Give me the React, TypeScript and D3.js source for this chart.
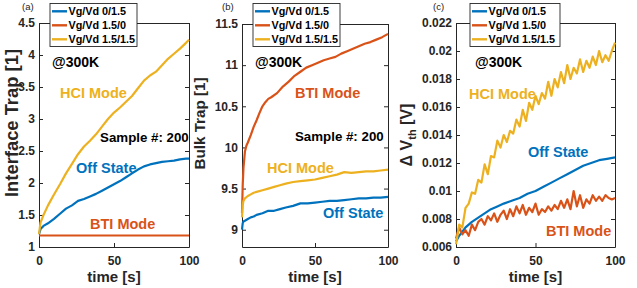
import React, { useRef, useEffect } from 'react';
import * as d3 from 'd3';

const seriesNames = ['Vg/Vd 0/1.5', 'Vg/Vd 1.5/0', 'Vg/Vd 1.5/1.5'];
const colors = ['#0072BD', '#D95319', '#EDB120'];
const xTicks = [0, 50, 100];

// (a) interface trap
const timeA = [0, 1, 3, 6, 10, 14, 18, 22, 26, 30, 34, 38, 42, 46, 50, 54, 58, 62, 66, 70, 74, 78, 82, 86, 90, 94, 98, 100];
const offA = [1.2, 1.28, 1.33, 1.37, 1.44, 1.52, 1.6, 1.65, 1.72, 1.75, 1.79, 1.83, 1.88, 1.93, 1.98, 2.03, 2.09, 2.15, 2.21, 2.26, 2.29, 2.31, 2.33, 2.34, 2.35, 2.37, 2.38, 2.38];
const btiTimeA = [0, 100];
const btiA = [1.18, 1.18];
const hciA = [1.2, 1.38, 1.5, 1.65, 1.82, 1.98, 2.15, 2.3, 2.45, 2.57, 2.66, 2.76, 2.88, 3.0, 3.1, 3.18, 3.27, 3.36, 3.48, 3.6, 3.68, 3.74, 3.84, 3.94, 4.02, 4.1, 4.19, 4.24];
const yTicksA = [1, 1.5, 2, 2.5, 3, 3.5, 4, 4.5];

// (b) bulk trap
const btiTimeB = [0, 0.5, 1, 2, 3, 4, 6, 8, 10, 12, 14, 16, 18, 20, 24, 28, 32, 36, 40, 44, 48, 52, 56, 60, 64, 68, 72, 76, 80, 84, 88, 92, 96, 100];
const btiB = [9.2, 9.55, 9.75, 9.95, 10.02, 10.06, 10.15, 10.25, 10.33, 10.42, 10.5, 10.55, 10.59, 10.61, 10.66, 10.74, 10.8, 10.87, 10.92, 10.97, 11.0, 11.03, 11.06, 11.08, 11.1, 11.14, 11.17, 11.2, 11.23, 11.26, 11.28, 11.31, 11.34, 11.38];
const timeB = [0, 0.5, 1, 2, 4, 6, 8, 10, 14, 18, 22, 26, 30, 35, 40, 45, 50, 55, 60, 65, 70, 75, 80, 85, 90, 95, 100];
const hciB = [9.15, 9.3, 9.35, 9.38, 9.41, 9.43, 9.45, 9.46, 9.48, 9.5, 9.52, 9.54, 9.56, 9.58, 9.59, 9.6, 9.61, 9.63, 9.65, 9.67, 9.7, 9.69, 9.7, 9.71, 9.71, 9.72, 9.73];
const offB = [9.0, 9.08, 9.1, 9.11, 9.13, 9.15, 9.16, 9.18, 9.2, 9.23, 9.23, 9.25, 9.27, 9.29, 9.32, 9.32, 9.33, 9.34, 9.35, 9.35, 9.36, 9.37, 9.38, 9.38, 9.39, 9.39, 9.4];
const yTicksB = [9, 9.5, 10, 10.5, 11, 11.5];

// (c) delta Vth
const offTimeC = [0, 2, 4, 6, 8, 10, 14, 18, 22, 26, 30, 35, 40, 45, 50, 55, 60, 65, 70, 75, 80, 85, 90, 95, 100];
const offC = [0.0064, 0.0068, 0.0071, 0.0074, 0.0076, 0.0078, 0.0081, 0.0084, 0.0087, 0.0089, 0.0091, 0.0093, 0.0095, 0.0098, 0.01, 0.0103, 0.0106, 0.0109, 0.0112, 0.0115, 0.0118, 0.012, 0.0122, 0.0123, 0.0124];
const timeC = [0, 2, 4, 6, 8, 10, 12, 14, 16, 18, 20, 22, 24, 26, 28, 30, 32, 34, 36, 38, 40, 42, 44, 46, 48, 50, 52, 54, 56, 58, 60, 62, 64, 66, 68, 70, 72, 74, 76, 78, 80, 82, 84, 86, 88, 90, 92, 94, 96, 98, 100];
const btiC = [0.0066, 0.0074, 0.0069, 0.0072, 0.0068, 0.0076, 0.0072, 0.0078, 0.008, 0.0076, 0.0082, 0.0079, 0.0084, 0.0078, 0.0083, 0.0086, 0.008, 0.0087, 0.0082, 0.0089, 0.0084, 0.009, 0.0083, 0.0088, 0.0085, 0.0091, 0.0083, 0.0087, 0.0085, 0.0089, 0.0086, 0.009, 0.0087, 0.0093, 0.0088, 0.0094, 0.0087, 0.01, 0.0089, 0.0097, 0.0088, 0.0094, 0.0091, 0.0097, 0.0093, 0.0096, 0.0093, 0.0097, 0.0095, 0.0094, 0.0095];
const hciC = [0.0062, 0.0076, 0.0074, 0.0088, 0.0091, 0.0099, 0.0098, 0.0108, 0.0106, 0.0119, 0.0112, 0.0125, 0.0124, 0.0136, 0.0131, 0.014, 0.0135, 0.0143, 0.0141, 0.0151, 0.0146, 0.0158, 0.015, 0.0163, 0.0158, 0.0168, 0.0162, 0.017, 0.0166, 0.0178, 0.0168, 0.018, 0.0174, 0.0185, 0.0177, 0.019, 0.018, 0.0188, 0.0184, 0.0194, 0.0185, 0.0193, 0.0188, 0.0196, 0.019, 0.02, 0.0192, 0.0197, 0.0193, 0.02, 0.0206];
const yTicksC = [0.006, 0.008, 0.01, 0.012, 0.014, 0.016, 0.018, 0.02, 0.022];

const panels = [
  {
    tag: '(a)', tagX: 22,
    left: 39, right: 189, top: 23, bottom: 247, yDomain: [1, 4.5], yTicks: yTicksA,
    yLabel: 'Interface Trap [1]', yLabelX: 17.5, yLabelY: 123, yLabelSize: 18, yLabelLen: 148,
    legendX: 50, legendW: 87,
    series: [{ t: timeA, v: offA }, { t: btiTimeA, v: btiA }, { t: timeA, v: hciA }],
    notes: [
      { text: '@300K', t: 8.7, v: 3.89, color: '#000', size: 14 },
      { text: 'HCI Mode', t: 14, v: 3.41, color: colors[2], size: 14.5 },
      { text: 'Sample #: 200', t: 40.7, v: 2.72, color: '#000', size: 13.3 },
      { text: 'Off State', t: 24.7, v: 2.23, color: colors[0], size: 14.5 },
      { text: 'BTI Mode', t: 34, v: 1.36, color: colors[1], size: 14.5 },
    ],
  },
  {
    tag: '(b)', tagX: 222,
    left: 242, right: 388, top: 24, bottom: 247, yDomain: [8.79, 11.5], yTicks: yTicksB,
    yLabel: 'Bulk Trap [1]', yLabelX: 205, yLabelY: 123.5, yLabelSize: 15, yLabelLen: 92,
    legendX: 253, legendW: 87,
    series: [{ t: timeB, v: offB }, { t: btiTimeB, v: btiB }, { t: timeB, v: hciB }],
    notes: [
      { text: '@300K', t: 8.9, v: 11.04, color: '#000', size: 14 },
      { text: 'BTI Mode', t: 36.3, v: 10.66, color: colors[1], size: 14.5 },
      { text: 'Sample #: 200', t: 36.3, v: 10.13, color: '#000', size: 13.3 },
      { text: 'HCI Mode', t: 17.1, v: 9.75, color: colors[2], size: 14.5 },
      { text: 'Off State', t: 55.5, v: 9.2, color: colors[0], size: 14.5 },
    ],
  },
  {
    tag: '(c)', tagX: 433,
    left: 456, right: 615, top: 23, bottom: 247, yDomain: [0.006, 0.022], yTicks: yTicksC,
    yLabel: null, yLabelX: 412, yLabelY: 135, yLabelSize: 16, yLabelLen: 0,
    legendX: 470, legendW: 90,
    series: [{ t: offTimeC, v: offC }, { t: timeC, v: btiC }, { t: timeC, v: hciC }],
    notes: [
      { text: '@300K', t: 12, v: 0.01921, color: '#000', size: 14 },
      { text: 'HCI Mode', t: 8.2, v: 0.01693, color: colors[2], size: 14.5 },
      { text: 'Off State', t: 45.3, v: 0.01279, color: colors[0], size: 14.5 },
      { text: 'BTI Mode', t: 56.6, v: 0.00714, color: colors[1], size: 14.5 },
    ],
  },
];

const axisColor = '#262626';

function styleAxis(sel, withText) {
  sel.attr('font-family', null).attr('font-size', null);
  sel.select('.domain').attr('stroke', axisColor).attr('stroke-width', 1);
  sel.selectAll('.tick line').attr('stroke', axisColor);
  if (withText) {
    sel.selectAll('.tick text')
      .attr('font-size', 12)
      .attr('font-weight', 'bold')
      .attr('fill', axisColor);
  } else {
    sel.selectAll('.tick text').remove();
  }
}

function drawPanel(svg, p) {
  const x = d3.scaleLinear().domain([0, 100]).range([p.left, p.right]);
  const y = d3.scaleLinear().domain(p.yDomain).range([p.bottom, p.top]);
  const g = svg.append('g');

  g.append('g').attr('transform', `translate(0,${p.bottom})`)
    .call(d3.axisBottom(x).tickValues(xTicks).tickSize(-4).tickSizeOuter(0).tickPadding(9))
    .call(s => styleAxis(s, true));
  g.append('g').attr('transform', `translate(0,${p.top})`)
    .call(d3.axisTop(x).tickValues(xTicks).tickSize(-4).tickSizeOuter(0))
    .call(s => styleAxis(s, false));
  g.append('g').attr('transform', `translate(${p.left},0)`)
    .call(d3.axisLeft(y).tickValues(p.yTicks).tickFormat(d => String(d)).tickSize(-4).tickSizeOuter(0).tickPadding(4))
    .call(s => styleAxis(s, true));
  g.append('g').attr('transform', `translate(${p.right},0)`)
    .call(d3.axisRight(y).tickValues(p.yTicks).tickSize(-4).tickSizeOuter(0))
    .call(s => styleAxis(s, false));

  const line = d3.line().x(d => x(d[0])).y(d => y(d[1]));
  p.series.forEach((s, i) => {
    const pts = s.t.map((t, j) => [t, s.v[j]]);
    g.append('path')
      .datum(pts)
      .attr('fill', 'none')
      .attr('stroke', colors[i])
      .attr('stroke-width', 2.2)
      .attr('stroke-linejoin', 'round')
      .attr('d', line);
  });

  p.notes.forEach(n => {
    g.append('text')
      .attr('x', x(n.t))
      .attr('y', y(n.v))
      .attr('dy', '0.35em')
      .attr('font-size', n.size)
      .attr('font-weight', 'bold')
      .attr('fill', n.color)
      .text(n.text);
  });

  // axis labels
  g.append('text')
    .attr('x', (p.left + p.right) / 2)
    .attr('y', 282)
    .attr('text-anchor', 'middle')
    .attr('font-size', 15)
    .attr('font-weight', 'bold')
    .attr('fill', axisColor)
    .text('time [s]');

  const yl = g.append('text')
    .attr('transform', `translate(${p.yLabelX},${p.yLabelY}) rotate(-90)`)
    .attr('text-anchor', 'middle')
    .attr('font-size', p.yLabelSize)
    .attr('font-weight', 'bold')
    .attr('fill', axisColor);
  if (p.yLabel) {
    yl.attr('textLength', p.yLabelLen).attr('lengthAdjust', 'spacingAndGlyphs').text(p.yLabel);
  } else {
    yl.append('tspan').text('\u0394 V');
    yl.append('tspan').attr('font-size', 11).attr('dy', 4).text('th');
    yl.append('tspan').attr('dy', -4).text(' [V]');
  }

  g.append('text')
    .attr('x', p.tagX)
    .attr('y', 10)
    .attr('font-size', 9.5)
    .attr('fill', '#222')
    .text(p.tag);

  // legend
  const lg = g.append('g').attr('transform', `translate(${p.legendX},3.5)`);
  lg.append('rect')
    .attr('width', p.legendW)
    .attr('height', 43)
    .attr('fill', '#fff')
    .attr('stroke', axisColor)
    .attr('stroke-width', 0.9);
  seriesNames.forEach((name, i) => {
    const ry = 7.8 + i * 14;
    lg.append('line')
      .attr('x1', 2).attr('x2', 17)
      .attr('y1', ry).attr('y2', ry)
      .attr('stroke', colors[i])
      .attr('stroke-width', 2.4);
    lg.append('text')
      .attr('x', 18.5)
      .attr('y', ry)
      .attr('dy', '0.35em')
      .attr('font-size', 10.8)
      .attr('font-weight', 'bold')
      .attr('fill', '#000')
      .text(name);
  });
}

const App = () => {
  const svgRef = useRef(null);

  useEffect(() => {
    const svg = d3.select(svgRef.current);
    svg.selectAll('*').remove();
    panels.forEach(p => drawPanel(svg, p));
  }, []);

  return (
    <div style={{ position: 'absolute', left: 0, top: 0 }}>
      <svg
        ref={svgRef}
        width={637}
        height={288}
        style={{ display: 'block', background: '#fff' }}
        fontFamily="'Liberation Sans', Arial, sans-serif"
      />
    </div>
  );
};

export default App;
